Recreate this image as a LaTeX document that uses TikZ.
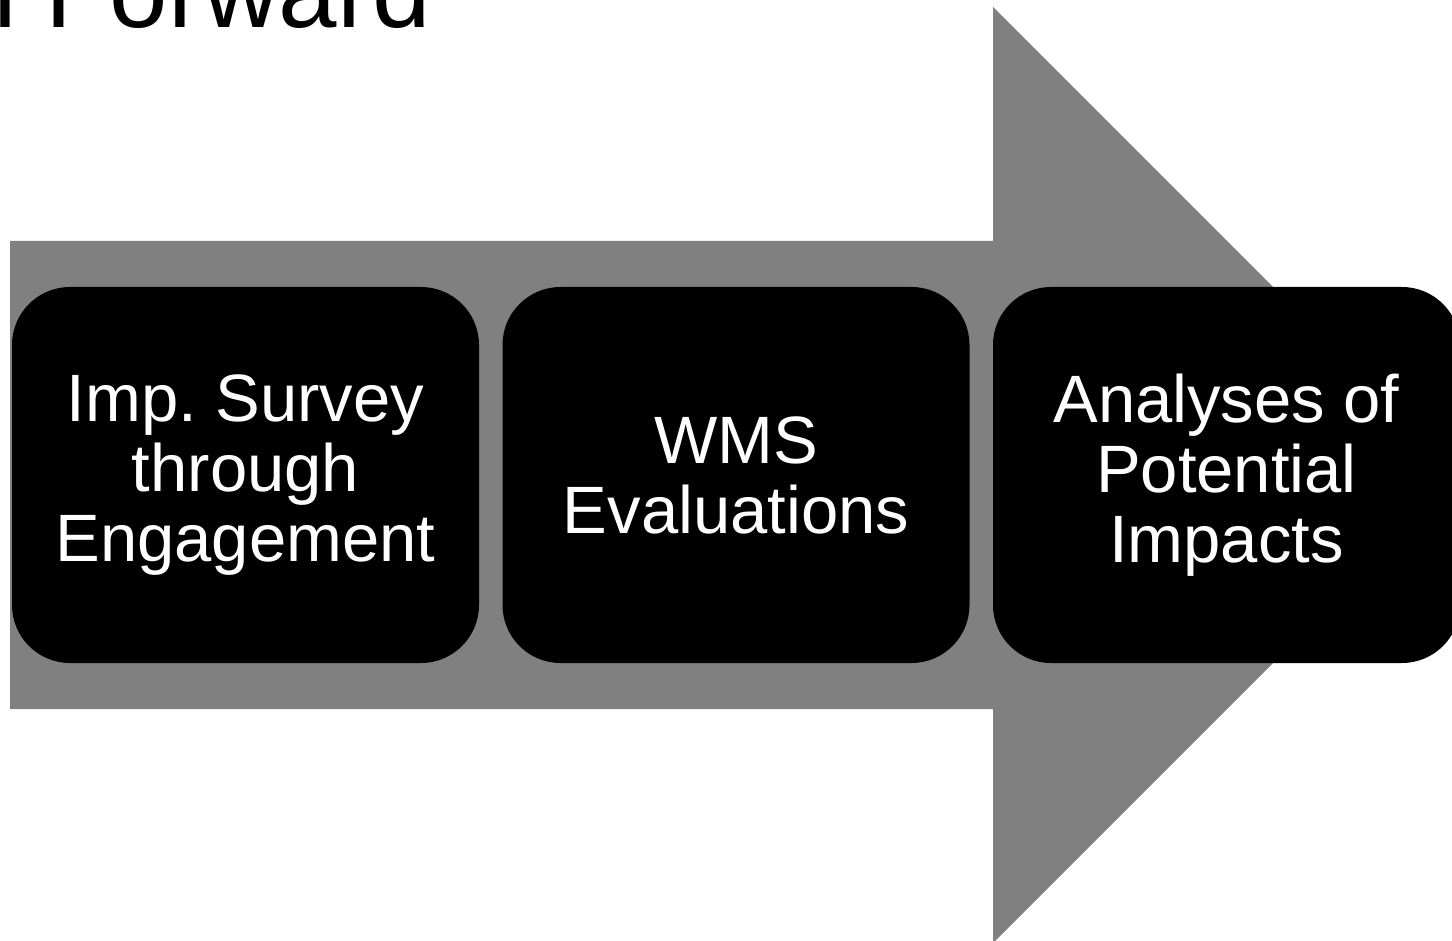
\documentclass[tikz,border=0pt]{standalone}
\usepackage{fontspec}
\setmainfont{Liberation Sans}
\definecolor{arrowgray}{HTML}{808080}
\begin{document}
\frenchspacing
\begin{tikzpicture}[x=1pt,y=-1pt,
  stagebox/.style={fill=black, draw=none, rounded corners=58pt,
    minimum width=467pt, minimum height=376pt, inner sep=0pt,
    text=white, align=center, font=\fontsize{67}{70}\selectfont\frenchspacing},
  titletext/.style={anchor=base west, inner sep=0pt, font=\fontsize{105}{110}\selectfont}]
\useasboundingbox (0,0) rectangle (1452,941);
% big arrow
\fill[arrowgray] (10,241) -- (993,241) -- (993,7) -- (1461,475) -- (993,943) -- (993,709) -- (10,709) -- cycle;
% title (cut off at the top, as in the reference)
\node[titletext] (title) at (-42,28) {n Forward};
% stages
\node[stagebox] (s1) at (245.5,475) {Imp. Survey\\through\\Engagement};
\node[stagebox] (s2) at (736,475) {WMS\\Evaluations};
\node[stagebox] (s3) at (1226.5,475) {Analyses of\\Potential\\Impacts};
\end{tikzpicture}
\end{document}
